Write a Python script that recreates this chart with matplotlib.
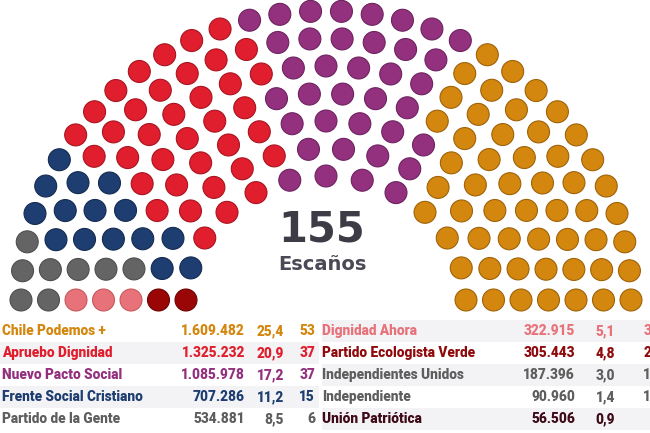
import numpy as np
import matplotlib
matplotlib.use("Agg")
import matplotlib.pyplot as plt

# ---------------- data ----------------
parties_left = ["Chile Podemos +", "Apruebo Dignidad", "Nuevo Pacto Social",
                "Frente Social Cristiano", "Partido de la Gente"]
votes_left = ["1.609.482", "1.325.232", "1.085.978", "707.286", "534.881"]
pct_left = ["25,4", "20,9", "17,2", "11,2", "8,5"]
seats_left = [53, 37, 37, 15, 6]

parties_right = ["Dignidad Ahora", "Partido Ecologista Verde", "Independientes Unidos",
                 "Independiente", "Unión Patriótica"]
votes_right = ["322.915", "305.443", "187.396", "90.960", "56.506"]
pct_right = ["5,1", "4,8", "3,0", "1,4", "0,9"]
seats_right = [3, 2, 1, 1, 0]

colors_left = ["#D4870E", "#E01E2D", "#93317F", "#1E3D70", "#5E5E5E"]
colors_right = ["#E8727A", "#8E0A0C", "#5E5E5E", "#5E5E5E", "#3F0A18"]

# hemicycle order (left -> right): seat groups and colours
hemi_seats = [2, 3, 6 + 1 + 1, 15, 37, 37, 53]
hemi_colors = ["#9A0606", "#E8727A", "#646464", "#1E3D70", "#E01E2D", "#93317F", "#D4870E"]
hemi_edges = ["#6E0404", "#C8585E", "#4E4E4E", "#142B52", "#A8141F", "#6E2260", "#9E6208"]
row_counts = [13, 16, 19, 22, 25, 28, 32]
total_seats = 155

# ---------------- figure ----------------
W, H = 650, 433
fig = plt.figure(figsize=(W / 100, H / 100), dpi=100)
ax = fig.add_axes([0, 0, 1, 1])
ax.set_xlim(0, W)
ax.set_ylim(H, 0)
ax.axis("off")

cx, cy = 326, 300
r0, dr = 140, 27.5
pts = []
for i, n in enumerate(row_counts):
    rx = r0 + dr * i
    ry = rx - 16
    for j in range(n):
        th = np.pi * j / (n - 1)
        key = round(th, 9) - 1e-7 * i * np.sin(2 * th)
        pts.append((key, i, cx - rx * np.cos(th), cy - ry * np.sin(th)))
pts.sort(key=lambda p: (p[0], p[1]))

xs = np.array([p[2] for p in pts])
ys = np.array([p[3] for p in pts])
fc, ec = [], []
for s, c, e in zip(hemi_seats, hemi_colors, hemi_edges):
    fc += [c] * s
    ec += [e] * s
ax.scatter(xs, ys, s=250, c=fc, edgecolors=ec, linewidths=0.8, zorder=3)

ax.text(cx - 4, 229, str(total_seats), ha="center", va="center", fontsize=30,
        fontweight="bold", color="#3D3B46", family="DejaVu Sans")
ax.text(cx - 4, 265, "Escaños", ha="center", va="center", fontsize=14,
        fontweight="bold", color="#4A4955", family="DejaVu Sans")

# ---------------- table ----------------
row_y = [331, 353, 375, 397, 419]
row_h = 22
band = "#F3F3F5"
for k, y in enumerate(row_y):
    if k % 2 == 1:
        ax.add_patch(plt.Rectangle((0, y - row_h / 2), 319, row_h, color=band, zorder=1, lw=0))
    if k % 2 == 0:
        ax.add_patch(plt.Rectangle((322, y - row_h / 2), 330, row_h, color=band, zorder=1, lw=0))

fs = 9.8
kw = dict(va="center", fontsize=fs, fontweight=900, family="Roboto", zorder=4)
for k, y in enumerate(row_y):
    c = colors_left[k]
    ax.text(2, y, parties_left[k], ha="left", color=c, **kw)
    ax.text(245, y, votes_left[k], ha="right", color=c, **kw)
    ax.text(284, y, pct_left[k], ha="right", color=c, **kw)
    ax.text(315, y, str(seats_left[k]), ha="right", color=c, **kw)
    c = colors_right[k]
    ax.text(322, y, parties_right[k], ha="left", color=c, **kw)
    ax.text(575, y, votes_right[k], ha="right", color=c, **kw)
    ax.text(615, y, pct_right[k], ha="right", color=c, **kw)
    if seats_right[k] > 0:
        ax.text(651, y, str(seats_right[k]), ha="right", color=c, **kw)

fig.savefig("out.png", dpi=100, facecolor="white")
